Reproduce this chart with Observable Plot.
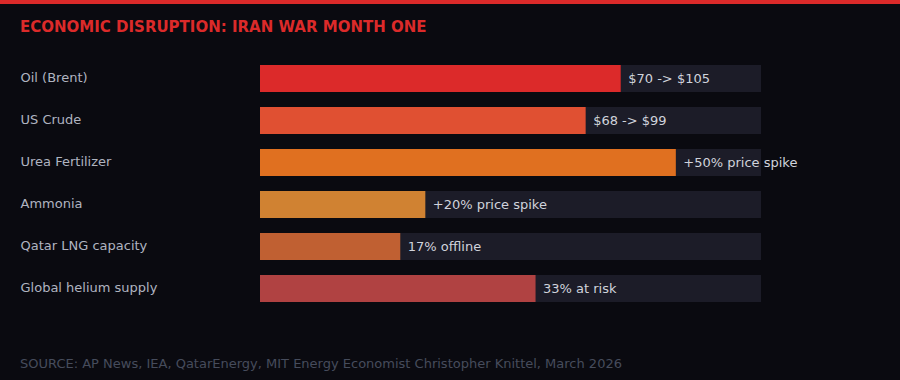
<!DOCTYPE html>
<html>
<head>
<meta charset="utf-8">
<script src="https://cdn.jsdelivr.net/npm/d3@7"></script>
<script src="https://cdn.jsdelivr.net/npm/@observablehq/plot@0.6"></script>
<style>
  html, body { margin: 0; padding: 0; background: #0a0a10; }
  #wrap { position: relative; width: 900px; height: 380px; background: #0a0a10; overflow: hidden; font-family: "DejaVu Sans", sans-serif; }
  #topbar { position: absolute; left: 0; top: 0; width: 900px; height: 4px; background: #dc2a2a; }
  #title { position: absolute; left: 20px; top: 18px; font-size: 15px; font-weight: bold; color: #dc2a2a; line-height: 18px; white-space: nowrap; }
  #source { position: absolute; left: 20px; top: 356px; font-size: 13px; color: #464c5c; line-height: 16px; white-space: nowrap; }
  #chart { position: absolute; left: 0; top: 0; }
</style>
</head>
<body>
<div id="wrap">
  <div id="chart"></div>
  <div id="topbar"></div>
  <div id="title">ECONOMIC DISRUPTION: IRAN WAR MONTH ONE</div>
  <div id="source">SOURCE: AP News, IEA, QatarEnergy, MIT Energy Economist Christopher Knittel, March 2026</div>
</div>
<script>
const categories = ["Oil (Brent)", "US Crude", "Urea Fertilizer", "Ammonia", "Qatar LNG capacity", "Global helium supply"];
const severity = [72, 65, 83, 33, 28, 55];
const valueLabels = ["$70 -> $105", "$68 -> $99", "+50% price spike", "+20% price spike", "17% offline", "33% at risk"];
const barColors = ["#dc2a2a", "#e05032", "#e07020", "#d08232", "#c06032", "#b04242"];
const scaleMax = 100;

const rows = categories.map((c, i) => ({
  category: c, value: severity[i], label: valueLabels[i], color: barColors[i], max: scaleMax
}));

const chart = Plot.plot({
  width: 900,
  height: 380,
  marginLeft: 260,
  marginRight: 139,
  marginTop: 58,
  marginBottom: 70,
  style: { background: "transparent", fontFamily: "DejaVu Sans, sans-serif" },
  x: { domain: [0, scaleMax], axis: null },
  y: { domain: categories, paddingInner: 0.357, paddingOuter: 0.1785, label: null },
  marks: [
    Plot.barX(rows, { y: "category", x1: 0, x2: "max", fill: "#1c1c28" }),
    Plot.barX(rows, { y: "category", x1: 0, x2: "value", fill: "color" }),
    Plot.text(rows, { y: "category", x: "value", text: "label", dx: 7, textAnchor: "start", fill: "#d0d3dc", fontSize: 13 }),
    Plot.axisY({ tickSize: 0, tickPadding: 240, textAnchor: "start", fontSize: 13, color: "#b0b4c0", dy: -1, label: null })
  ]
});
document.getElementById("chart").appendChild(chart);
</script>
</body>
</html>
